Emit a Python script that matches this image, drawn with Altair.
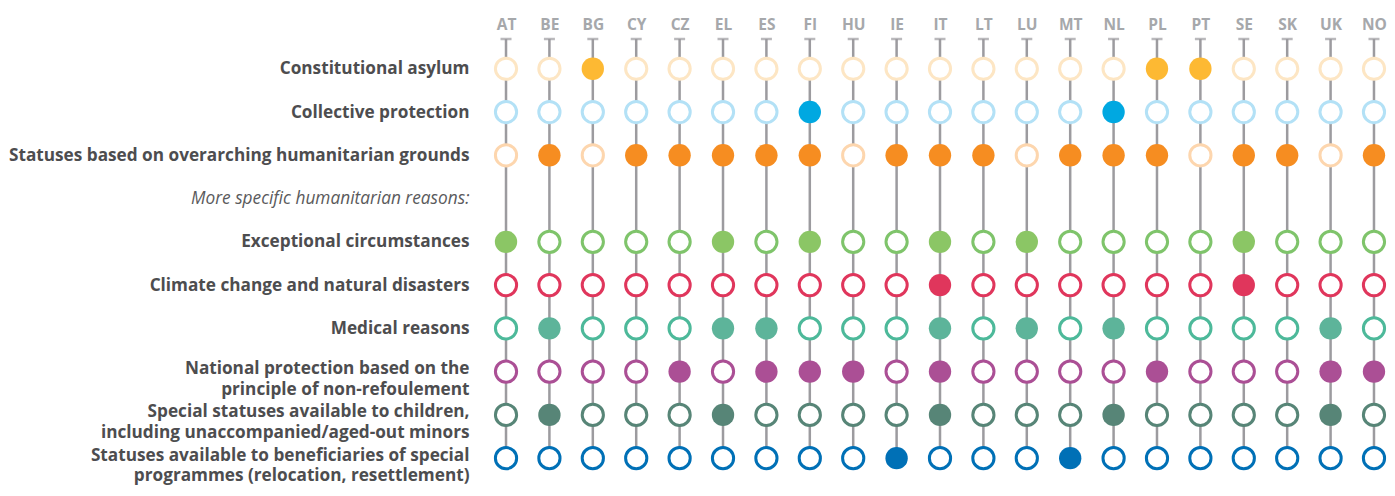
import altair as alt
import pandas as pd

countries = ["AT", "BE", "BG", "CY", "CZ", "EL", "ES", "FI", "HU", "IE", "IT",
             "LT", "LU", "MT", "NL", "PL", "PT", "SE", "SK", "UK", "NO"]

rows = [
    "Constitutional asylum",
    "Collective protection",
    "Statuses based on overarching humanitarian grounds",
    "More specific humanitarian reasons:",
    "Exceptional circumstances",
    "Climate change and natural disasters",
    "Medical reasons",
    "National protection based on the|principle of non-refoulement",
    "Special statuses available to children,|including unaccompanied/aged-out minors",
    "Statuses available to beneficiaries of special|programmes (relocation, resettlement)",
]
subheading = "More specific humanitarian reasons:"

#                        AT BE BG CY CZ EL ES FI HU IE IT LT LU MT NL PL PT SE SK UK NO
constitutional_asylum = [0, 0, 1, 0, 0, 0, 0, 0, 0, 0, 0, 0, 0, 0, 0, 1, 1, 0, 0, 0, 0]
collective_protection = [0, 0, 0, 0, 0, 0, 0, 1, 0, 0, 0, 0, 0, 0, 1, 0, 0, 0, 0, 0, 0]
humanitarian_grounds  = [0, 1, 0, 1, 1, 1, 1, 1, 0, 1, 1, 1, 0, 1, 1, 1, 0, 1, 1, 0, 1]
exceptional_circ      = [1, 0, 0, 0, 0, 1, 0, 1, 0, 0, 1, 0, 1, 0, 0, 0, 0, 1, 0, 0, 0]
climate_change        = [0, 0, 0, 0, 0, 0, 0, 0, 0, 0, 1, 0, 0, 0, 0, 0, 0, 1, 0, 0, 0]
medical_reasons       = [0, 1, 0, 0, 0, 1, 1, 0, 0, 0, 1, 0, 1, 0, 1, 0, 0, 0, 0, 1, 0]
non_refoulement       = [0, 0, 0, 0, 1, 0, 1, 1, 1, 0, 1, 0, 0, 0, 0, 1, 0, 0, 0, 1, 1]
children_minors       = [0, 1, 0, 0, 0, 1, 0, 0, 0, 0, 1, 0, 0, 0, 1, 0, 0, 0, 0, 1, 0]
special_programmes    = [0, 0, 0, 0, 0, 0, 0, 0, 0, 1, 0, 0, 0, 1, 0, 0, 0, 0, 0, 0, 0]

data_rows = [r for r in rows if r != subheading]
row_values = [constitutional_asylum, collective_protection, humanitarian_grounds,
              exceptional_circ, climate_change, medical_reasons, non_refoulement,
              children_minors, special_programmes]

fill_colors = ["#FDB933", "#00A8E1", "#F68D21", "#8BC665", "#E0365C",
               "#5DB49A", "#AB4F95", "#578577", "#0070B6"]
outline_colors = ["#FDE6C4", "#B3E1F6", "#FDD6AE", "#7FC46B", "#E0365C",
                  "#4DB99A", "#AB4F95", "#578577", "#0070B6"]

records = []
for r, vals in zip(data_rows, row_values):
    for c, v in zip(countries, vals):
        records.append({"country": c, "row": r, "has": v})
df = pd.DataFrame(records)
lines_df = pd.DataFrame({"country": countries, "row": [rows[-1]] * len(countries)})

text_color = "#4D4D4F"
is_sub = f"datum.value == '{subheading}'"
is_multi = "indexof(datum.value, '|') >= 0"

x_enc = alt.X("country:N", sort=countries,
              scale=alt.Scale(domain=countries, type="point", padding=0.3),
              axis=alt.Axis(orient="top", title=None, domain=False, ticks=False, grid=False,
                            labelAngle=0, labelFont="Open Sans", labelFontWeight="bold",
                            labelFontSize=15.5, labelColor="#A6A8AB", labelPadding=7))
y_scale = alt.Scale(domain=rows, type="point", padding=0.4, align=0.86)
y_axis = alt.Axis(title=None, domain=False, ticks=False, grid=False,
                  labelExpr="split(datum.label, '|')",
                  labelFont="Open Sans", labelLimit=0,
                  labelLineHeight=20.5, labelPadding=24,
                  labelFontSize={"condition": {"test": is_sub, "value": 17.3}, "value": 17.2},
                  labelOffset={"condition": {"test": is_multi, "value": -3}, "value": 0},
                  labelColor={"condition": {"test": is_sub, "value": "#5A5A5C"}, "value": text_color},
                  labelFontWeight={"condition": {"test": is_sub, "value": "normal"}, "value": "bold"},
                  labelFontStyle={"condition": {"test": is_sub, "value": "italic"}, "value": "normal"})

rule = alt.Chart(lines_df).mark_rule(color="#9C9B9F", strokeWidth=2.5).encode(
    x=x_enc,
    y=alt.Y("row:N", scale=y_scale, axis=y_axis, sort=rows),
    y2=alt.value(0),
)
cap = alt.Chart(lines_df).mark_tick(color="#9C9B9F", orient="horizontal", size=11, thickness=2.5).encode(
    x=alt.X("country:N", sort=countries),
    y=alt.value(0),
)
filled = alt.Chart(df).transform_filter("datum.has == 1").mark_point(
    shape="circle", filled=True, size=500, opacity=1).encode(
    x=alt.X("country:N", sort=countries),
    y=alt.Y("row:N", sort=rows),
    color=alt.Color("row:N", scale=alt.Scale(domain=data_rows, range=fill_colors), legend=None),
)
empty = alt.Chart(df).transform_filter("datum.has == 0").mark_point(
    shape="circle", filled=False, fill="white", fillOpacity=1, size=450, strokeWidth=3, opacity=1).encode(
    x=alt.X("country:N", sort=countries),
    y=alt.Y("row:N", sort=rows),
    stroke=alt.Stroke("row:N", scale=alt.Scale(domain=data_rows, range=outline_colors), legend=None),
)

chart = alt.layer(rule, cap, empty, filled).properties(
    width=1379, height=480,
    autosize=alt.AutoSizeParams(type="fit", contains="padding"),
    padding={"left": 0, "right": 0, "top": 9, "bottom": 4},
).configure_view(stroke=None).configure_axis(domain=False, grid=False, ticks=False)

chart.save("out.html", embed_options={"renderer": "svg", "actions": False})
